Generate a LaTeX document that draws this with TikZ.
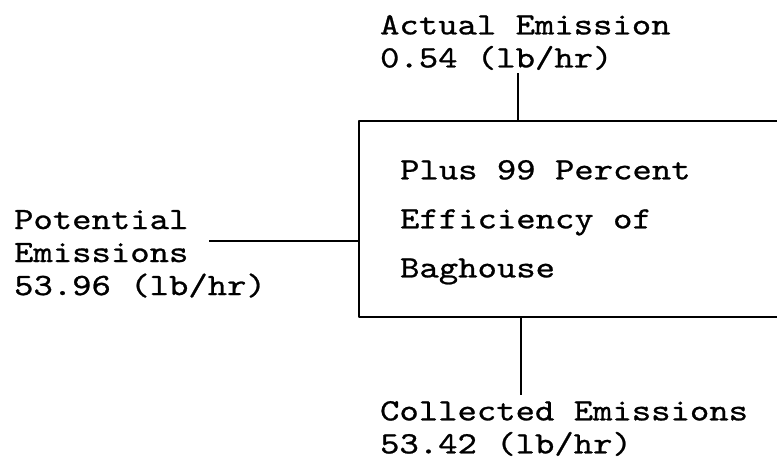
\documentclass[tikz,border=0pt]{standalone}
\usepackage{fontspec}
\setmonofont{lmmono10-regular.otf}[FakeStretch=1.19,FakeBold=0.8]
\begin{document}
\begin{tikzpicture}[x=0.5pt,y=-0.5pt,line join=round,line width=1.1pt,
	every node/.style={inner sep=0pt,align=left,anchor=north west},
	tag/.style={font=\fontsize{15.5}{16.5}\ttfamily},
	inbox/.style={font=\fontsize{15.5}{24.5}\ttfamily}]
	\useasboundingbox (0,0) rectangle (777,461);
	\clip (0,0) rectangle (777,461);
	% the baghouse box runs off the right edge
	\node[draw,anchor=center,minimum width=215.5pt,minimum height=98pt] (baghouse) at (574.5,219) {};
	\node[inbox] (boxtext) at (399,159) {Plus 99 Percent\\Efficiency of\\Baghouse};
	\node[tag] (actual) at (379,14) {Actual Emission\\0.54 (lb/hr)};
	\node[tag] (potential) at (13,209) {Potential\\Emissions\\53.96 (lb/hr)};
	\node[tag] (collected) at (379,400) {Collected Emissions\\53.42 (lb/hr)};
	\coordinate (vent) at (518,73);
	\coordinate (feed) at (209,241);
	\coordinate (drop) at (521,395);
	\draw (vent) -- (vent |- baghouse.north);
	\draw (feed) -- (feed -| baghouse.west);
	\draw (baghouse.south -| drop) -- (drop);
\end{tikzpicture}
\end{document}
